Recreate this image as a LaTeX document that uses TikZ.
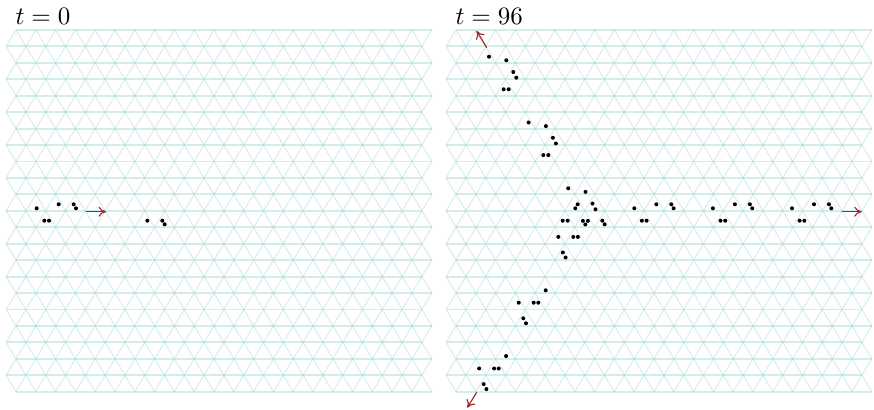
\documentclass[tikz,border=0pt]{standalone}
\usepackage{tikz}
\usetikzlibrary{arrows.meta}

\definecolor{lattcol}{RGB}{150,208,208}
\definecolor{flowred}{RGB}{165,35,35}

\begin{document}
\begin{tikzpicture}[x=0.4pt, y=-0.4pt,
    bondh/.style={draw=lattcol, draw opacity=0.4, line width=0.75pt},
    bondd/.style={draw=lattcol, draw opacity=0.36, line width=0.45pt},
    particle/.style={fill=black},
    flow/.style={draw=flowred, line width=0.45pt, -{To[length=3pt,width=4pt]}}]
  \useasboundingbox (0,0) rectangle (874,410);

  % triangular lattices, t = 0 on the left and t = 96 on the right
  \foreach \px in {0,440}{
    \foreach \r in {0,...,22}{
      \pgfmathtruncatemacro{\rowodd}{mod(\r,2)}
      \pgfmathsetmacro{\yy}{30+16.44*\r}
      \foreach \k in {0,...,21}{
        \pgfmathsetmacro{\xx}{\px+16-9.9*\rowodd+19.8*\k}
        \ifnum\k<21 \draw[bondh] (\xx,\yy) -- ++(19.8,0); \fi
        \ifnum\r<22
          \ifnum\rowodd=0
            \draw[bondd] (\xx,\yy) -- ++(-9.9,16.44);
            \ifnum\k<21 \draw[bondd] (\xx,\yy) -- ++(9.9,16.44); \fi
          \else
            \ifnum\k>0 \draw[bondd] (\xx,\yy) -- ++(-9.9,16.44); \fi
            \draw[bondd] (\xx,\yy) -- ++(9.9,16.44);
          \fi
        \fi
      }
    }
  }

  % labels
  \node[anchor=base west, inner sep=0pt] (lab0) at (15,25) {$t=0$};
  \node[anchor=base west, inner sep=0pt] (lab96) at (455,25) {$t=96$};

  % gliders moving right
  \foreach \gx in {36.7,634.3,712.9,792.0}
    \foreach \dx/\dy in {0/0, 7.6/12.4, 12.3/12.4, 22/-4, 37/-4, 39.3/0}
      \fill[particle] (\gx+\dx,208.3+\dy) circle[radius=0.8pt];

  % gliders moving up-left
  \foreach \s in {0,1,2}
    \foreach \dx/\dy in {0/0, 17.3/3.6, 24.3/15.3, 27.3/21, 14.7/32.6, 19.7/32.6}
      \fill[particle] (489+39.6*\s+\dx,56.7+65.8*\s+\dy) circle[radius=0.8pt];

  % gliders moving down-left
  \foreach \s in {-1,0,1}
    \foreach \dx/\dy in {0/0, -27/12.4, -12/12.4, -7.4/12.4, -22.4/28, -19.7/33}
      \fill[particle] (545.7-39.6*\s+\dx,290.3+65.8*\s+\dy) circle[radius=0.8pt];

  % remaining particles
  \foreach \x/\y in {147.3/220.7, 162.3/220.7, 164.7/224.3,
                     577.7/204.3, 575.3/208.3, 562.7/220.7, 567.7/220.7,
                     602.3/220.7, 604.7/224.3}
    \fill[particle] (\x,\y) circle[radius=0.8pt];

  % directions of motion
  \coordinate (r0s) at (86,211.7);    \coordinate (r0e) at (106,211.7);
  \coordinate (r1s) at (841.7,211.7); \coordinate (r1e) at (861.7,211.7);
  \coordinate (uls) at (486.7,47.7);  \coordinate (ule) at (476.7,31);
  \coordinate (dls) at (476.7,392.3); \coordinate (dle) at (467.3,407.7);
  \draw[flow] (r0s) -- (r0e);
  \draw[flow] (r1s) -- (r1e);
  \draw[flow] (uls) -- (ule);
  \draw[flow] (dls) -- (dle);
\end{tikzpicture}
\end{document}
